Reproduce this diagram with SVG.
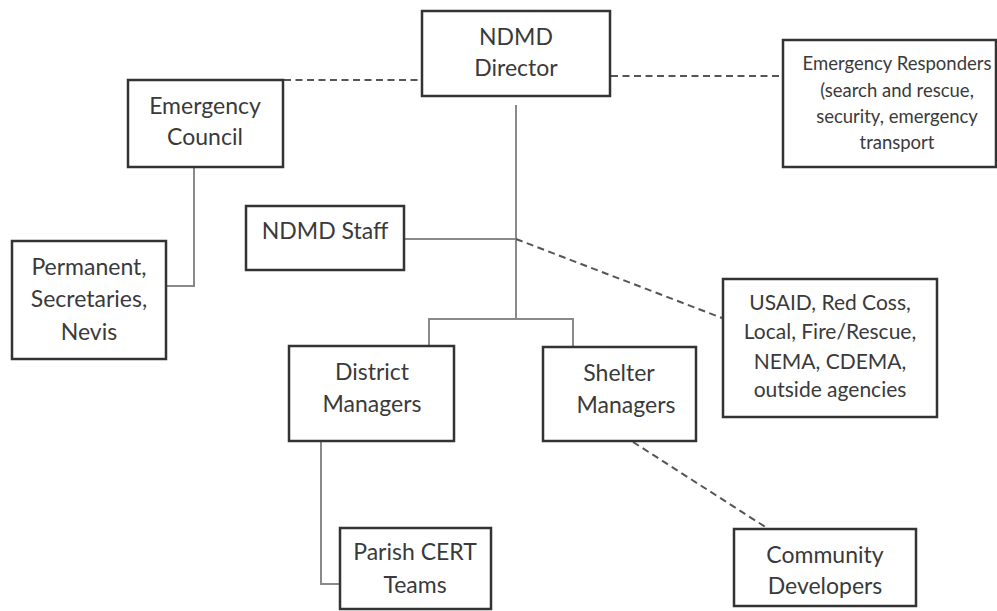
<svg xmlns="http://www.w3.org/2000/svg" width="997" height="611" viewBox="0 0 997 611">
<style>
.box{fill:#fff;stroke:#333;stroke-width:2.5}
.t{font-family:Lato,"Liberation Sans",sans-serif;fill:#3a3a3a;text-anchor:middle;font-size:23px}
.s{font-size:18.5px}
.m{font-size:21px}
.solid{fill:none;stroke:#8a8a8a;stroke-width:2}
.dash{fill:none;stroke:#555;stroke-width:2;stroke-dasharray:7 4.5}
</style>
<rect width="997" height="611" fill="#fff"/>
<g id="connectors">
<line class="dash" x1="284" y1="80" x2="421" y2="80"/>
<line class="dash" x1="611" y1="76" x2="782" y2="76"/>
<polyline class="solid" points="194,168 194,286 167,286"/>
<line class="solid" x1="516" y1="105" x2="516" y2="319"/>
<line class="solid" x1="405" y1="239" x2="516" y2="239"/>
<polyline class="solid" points="429,346 429,319 573,319 573,347"/>
<line class="dash" x1="516" y1="239" x2="722" y2="318"/>
<polyline class="solid" points="321,442 321,584 339,584"/>
<line class="dash" x1="633" y1="442" x2="767" y2="528"/>
</g>
<g id="director"><rect class="box" x="422" y="11" width="188" height="85"/><text class="t" x="516" y="45">NDMD</text><text class="t" x="516" y="76">Director</text></g>
<g id="council"><rect class="box" x="128" y="80" width="155" height="87"/><text class="t" x="205" y="114">Emergency</text><text class="t" x="205" y="145">Council</text></g>
<g id="responders"><rect class="box" x="783" y="40" width="213" height="127"/><text class="t s" x="897" y="70">Emergency Responders</text><text class="t s" x="897" y="97">(search and rescue,</text><text class="t s" x="897" y="123">security, emergency</text><text class="t s" x="897" y="149">transport</text></g>
<g id="staff"><rect class="box" x="246" y="206" width="158" height="64"/><text class="t" x="325" y="239">NDMD Staff</text></g>
<g id="permanent"><rect class="box" x="12" y="241" width="154" height="118"/><text class="t" x="89" y="275">Permanent,</text><text class="t" x="89" y="307">Secretaries,</text><text class="t" x="89" y="340">Nevis</text></g>
<g id="agencies"><rect class="box" x="723" y="279" width="214" height="138"/><text class="t m" x="830" y="310">USAID, Red Coss,</text><text class="t m" x="830" y="339">Local, Fire/Rescue,</text><text class="t m" x="830" y="369">NEMA, CDEMA,</text><text class="t m" x="830" y="397">outside agencies</text></g>
<g id="district"><rect class="box" x="289" y="346" width="165" height="95"/><text class="t" x="372" y="380">District</text><text class="t" x="372" y="412">Managers</text></g>
<g id="shelter"><rect class="box" x="543" y="347" width="153" height="94"/><text class="t" x="619" y="381">Shelter</text><text class="t" x="626" y="413">Managers</text></g>
<g id="parish"><rect class="box" x="340" y="528" width="151" height="81"/><text class="t" x="415" y="560">Parish CERT</text><text class="t" x="415" y="593">Teams</text></g>
<g id="community"><rect class="box" x="734" y="529" width="182" height="77"/><text class="t" x="825" y="563">Community</text><text class="t" x="825" y="594">Developers</text></g>
</svg>
